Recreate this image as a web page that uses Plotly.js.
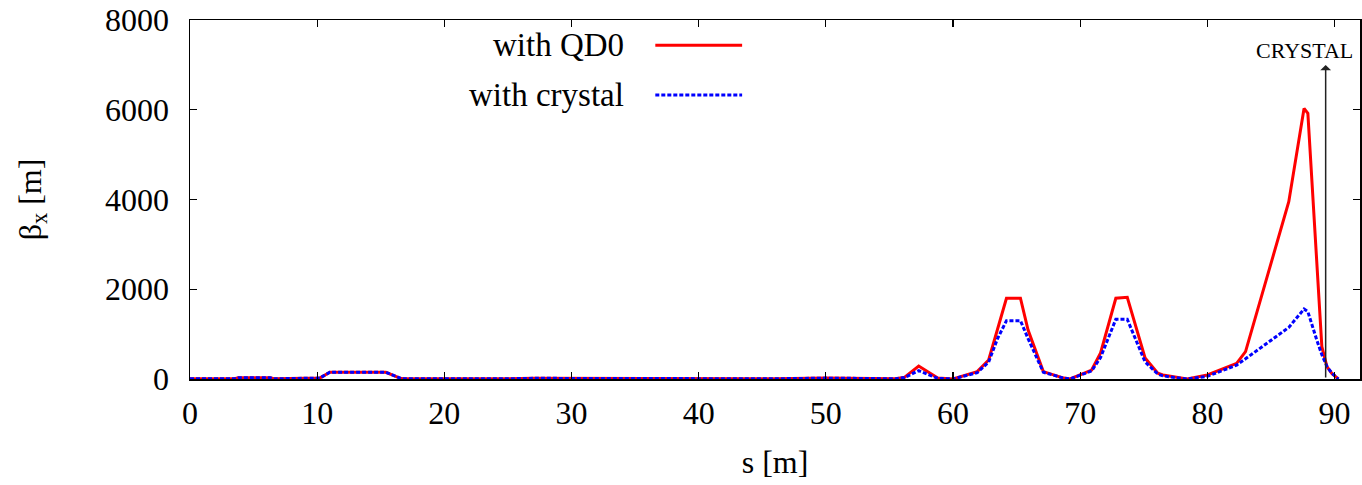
<!DOCTYPE html>
<html>
<head>
<meta charset="utf-8">
<script src="https://cdn.plot.ly/plotly-3.0.1.min.js"></script>
<style>
  html, body { margin: 0; padding: 0; background: #fff; }
  #chart { width: 1362px; height: 485px; }
</style>
</head>
<body>
<div id="chart"></div>
<script>
// Longitudinal position along the line [m]
const s = [0, 3.5, 3.8, 6.3, 6.6, 9.8, 10.2, 11.0, 15.4, 16.6, 17.0, 25, 27, 46, 50,
  55.5, 56.2, 57.3, 58.8, 60.0, 61.9, 62.8, 63.5, 64.2, 65.3, 65.9, 67.1, 68.7, 69.2,
  70.9, 71.6, 72.8, 73.7, 75.1, 76.1, 76.5, 78.4, 80.0, 82.3, 83.0, 86.4, 87.6, 87.9,
  88.6, 89.0, 89.4, 89.8, 90.3];

// Horizontal beta function [m] for the two optics
const betaQD0 = [5, 5, 30, 30, 5, 5, 20, 150, 150, 10, 5, 5, 15, 5, 20,
  5, 40, 290, 20, 0, 165, 423, 1100, 1800, 1800, 1090, 165, 20, 0,
  200, 580, 1800, 1820, 470, 130, 90, 0, 90, 350, 610, 3950, 6030, 5920,
  2600, 720, 275, 120, 0];

const betaCrystal = [5, 5, 30, 30, 5, 5, 20, 150, 150, 10, 5, 5, 15, 5, 20,
  5, 35, 185, 15, 0, 140, 380, 900, 1300, 1300, 900, 150, 20, 0,
  180, 480, 1330, 1330, 380, 110, 70, 0, 60, 310, 450, 1150, 1560, 1500,
  870, 540, 280, 127, 0];

const seriesNames = ['with QD0', 'with crystal'];
const tickValsX = [0, 10, 20, 30, 40, 50, 60, 70, 80, 90];
const tickValsY = [0, 2000, 4000, 6000, 8000];

// Crystal location and arrow tip height
const crystalPos = 89.3;
const crystalArrowTop = 7000;

const serif = 'Liberation Serif, Times New Roman, serif';

const traces = [
  {
    x: s, y: betaQD0, name: seriesNames[0], type: 'scatter', mode: 'lines',
    line: { color: '#ff0000', width: 3 }, showlegend: false
  },
  {
    x: s, y: betaCrystal, name: seriesNames[1], type: 'scatter', mode: 'lines',
    line: { color: '#0000ff', width: 3, dash: '4px,2px' }, showlegend: false
  }
];

const axisCommon = {
  showgrid: false, zeroline: false, showline: true, linecolor: '#000', linewidth: 1.5,
  mirror: 'ticks', ticks: 'inside', ticklen: 7, tickwidth: 1.2, tickcolor: '#000',
  tickfont: { family: serif, size: 32, color: '#000' }
};

const layout = {
  width: 1362, height: 485,
  margin: { l: 190, r: 2, t: 20, b: 106 },
  paper_bgcolor: '#fff', plot_bgcolor: '#fff',
  font: { family: serif, color: '#000' },
  xaxis: Object.assign({}, axisCommon, {
    range: [0, 92], tickvals: tickValsX, ticklabelstandoff: 5,
    title: { text: 's [m]', font: { family: serif, size: 32 }, standoff: 20 }
  }),
  yaxis: Object.assign({}, axisCommon, {
    range: [0, 8000], tickvals: tickValsY, ticklabelstandoff: 13,
    title: { text: 'β<sub>x</sub> [m]', font: { family: serif, size: 32 }, standoff: 54 }
  }),
  annotations: [
    // legend text, right-aligned before the line samples
    { xref: 'paper', yref: 'paper', x: 0.3725, y: 0.930, xanchor: 'right', yanchor: 'middle',
      text: seriesNames[0], showarrow: false, font: { family: serif, size: 33 } },
    { xref: 'paper', yref: 'paper', x: 0.3725, y: 0.791, xanchor: 'right', yanchor: 'middle',
      text: seriesNames[1], showarrow: false, font: { family: serif, size: 33 } },
    // crystal marker
    { x: crystalPos, y: crystalArrowTop, ax: crystalPos, ay: 0, xref: 'x', yref: 'y',
      axref: 'x', ayref: 'y', text: '', showarrow: true, arrowhead: 1, arrowsize: 1.2,
      arrowwidth: 1.5, arrowcolor: '#222' },
    { x: crystalPos, y: crystalArrowTop, xref: 'x', yref: 'y', xanchor: 'right', yanchor: 'bottom',
      xshift: 29, yshift: 0, text: 'CRYSTAL', showarrow: false,
      font: { family: serif, size: 22 } }
  ],
  shapes: [
    { type: 'line', xref: 'paper', yref: 'paper', x0: 0.3977, x1: 0.4719, y0: 0.930, y1: 0.930,
      line: { color: '#ff0000', width: 3 } },
    { type: 'line', xref: 'paper', yref: 'paper', x0: 0.3977, x1: 0.4719, y0: 0.791, y1: 0.791,
      line: { color: '#0000ff', width: 3, dash: '4px,2px' } }
  ]
};

Plotly.newPlot('chart', traces, layout, { staticPlot: true, displayModeBar: false });
</script>
</body>
</html>
